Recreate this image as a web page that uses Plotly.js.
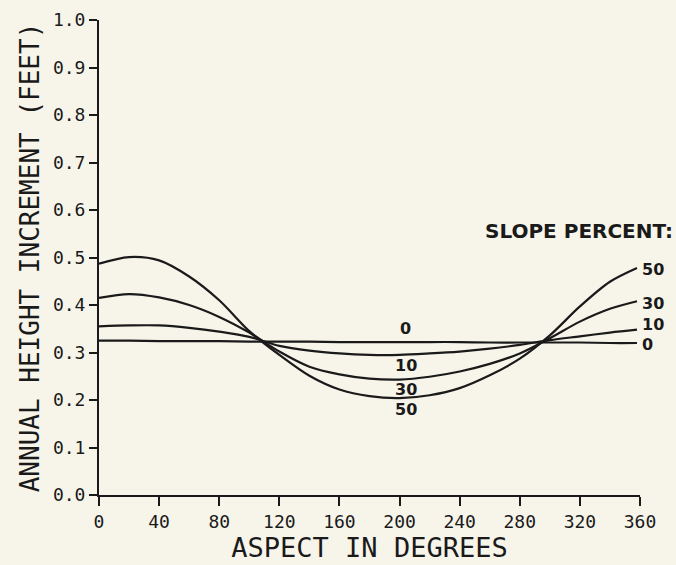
<!DOCTYPE html>
<html>
<head>
<meta charset="utf-8">
<script src="https://cdn.plot.ly/plotly-3.0.1.min.js"></script>
<style>
  html, body { margin: 0; padding: 0; background: #f7f5ea; }
  #chart { width: 676px; height: 565px; }
</style>
</head>
<body>
<div id="chart"></div>
<script>
// Aspect (degrees) sample points
const aspect = [0, 20, 40, 60, 80, 100, 120, 140, 160, 180, 200, 220, 240, 260, 280, 300, 320, 340, 358];

// Annual height increment (feet) per slope percent
const slope0  = [0.325, 0.325, 0.324, 0.324, 0.324, 0.323, 0.323, 0.323, 0.322, 0.322, 0.322, 0.322, 0.322, 0.321, 0.321, 0.321, 0.321, 0.320, 0.320];
const slope10 = [0.355, 0.357, 0.357, 0.352, 0.344, 0.333, 0.314, 0.304, 0.298, 0.295, 0.295, 0.298, 0.302, 0.308, 0.316, 0.326, 0.334, 0.342, 0.348];
const slope30 = [0.415, 0.423, 0.416, 0.400, 0.375, 0.342, 0.302, 0.270, 0.254, 0.245, 0.243, 0.249, 0.260, 0.276, 0.298, 0.330, 0.365, 0.392, 0.408];
const slope50 = [0.487, 0.501, 0.494, 0.460, 0.410, 0.345, 0.295, 0.251, 0.222, 0.208, 0.204, 0.210, 0.225, 0.252, 0.287, 0.336, 0.397, 0.449, 0.478];

const seriesNames = ["0", "10", "30", "50"];
const seriesValues = [slope0, slope10, slope30, slope50];

// Label positions for the in-chart labels (aspect, value)
const midLabelX = [204, 204, 204, 204];
const midLabelY = [0.350, 0.272, 0.222, 0.179];
const endLabelY = [0.316, 0.358, 0.404, 0.474];

const xTicks = [0, 40, 80, 120, 160, 200, 240, 280, 320, 360];
const yTicks = [0.0, 0.1, 0.2, 0.3, 0.4, 0.5, 0.6, 0.7, 0.8, 0.9, 1.0];

const traces = seriesValues.map((vals, i) => ({
  x: aspect,
  y: vals,
  name: seriesNames[i],
  type: 'scatter',
  mode: 'lines',
  line: { color: '#1a1a1a', width: 2.2, shape: 'spline', smoothing: 0.9 },
  hoverinfo: 'x+y',
  showlegend: false
}));

const labelFont = { family: 'DejaVu Sans', size: 16, color: '#1a1a1a' };
const annotations = [];
seriesNames.forEach((n, i) => {
  annotations.push({
    x: midLabelX[i], y: midLabelY[i], xref: 'x', yref: 'y',
    text: '<b>' + n + '</b>', showarrow: false, font: labelFont
  });
  annotations.push({
    x: 358, y: endLabelY[i], xref: 'x', yref: 'y',
    text: '<b>' + n + '</b>', showarrow: false, font: labelFont,
    xanchor: 'left', xshift: 3
  });
});
annotations.push({
  x: 1.065, y: (495.5 - 232) / 475, xref: 'paper', yref: 'paper',
  text: '<b>SLOPE PERCENT:</b>', showarrow: false,
  font: { family: 'DejaVu Sans', size: 20, color: '#1a1a1a' },
  xanchor: 'right', yanchor: 'middle'
});

const monoFont = { family: 'DejaVu Sans Mono', size: 18, color: '#1a1a1a' };

const layout = {
  width: 676, height: 565,
  margin: { l: 99, r: 36, t: 20, b: 69.5 },
  paper_bgcolor: '#f7f5ea',
  plot_bgcolor: '#f7f5ea',
  xaxis: {
    range: [0, 360],
    tickvals: xTicks,
    ticktext: xTicks.map(String),
    ticks: 'outside', ticklen: 9, tickwidth: 2, tickcolor: '#1a1a1a',
    showline: true, linewidth: 2, linecolor: '#1a1a1a',
    showgrid: false, zeroline: false,
    tickfont: monoFont,
    title: { text: 'ASPECT IN DEGREES', font: { family: 'DejaVu Sans Mono', size: 27, color: '#1a1a1a' }, standoff: 6 }
  },
  yaxis: {
    range: [0, 1.0],
    tickvals: yTicks,
    ticktext: yTicks.map(v => v.toFixed(1)),
    ticks: 'outside', ticklen: 8, tickwidth: 2, tickcolor: '#1a1a1a',
    showline: true, linewidth: 2, linecolor: '#1a1a1a',
    showgrid: false, zeroline: false,
    tickfont: monoFont,
    title: { text: 'ANNUAL HEIGHT INCREMENT (FEET)', font: { family: 'DejaVu Sans Mono', size: 26, color: '#1a1a1a' }, standoff: 6 }
  },
  annotations: annotations,
  showlegend: false
};

Plotly.newPlot('chart', traces, layout, { displayModeBar: false, staticPlot: true });
</script>
</body>
</html>
